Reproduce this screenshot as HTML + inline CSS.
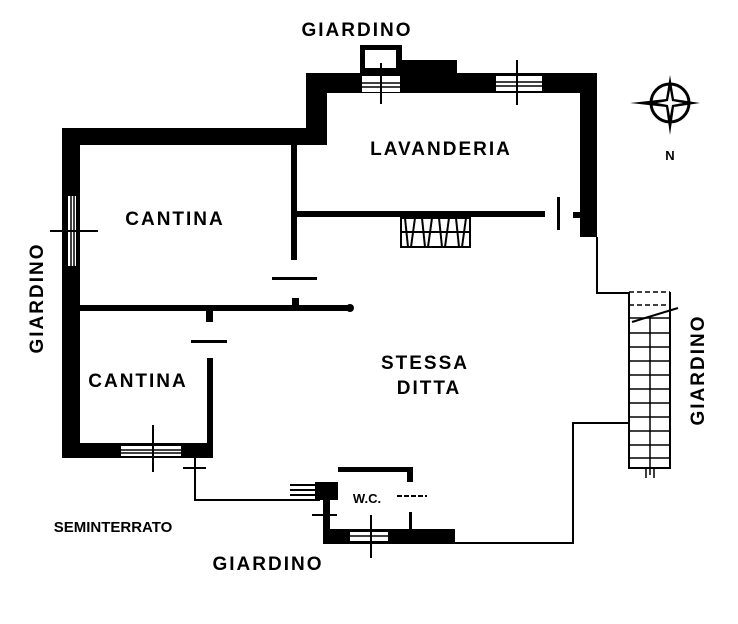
<!DOCTYPE html>
<html><head><meta charset="utf-8"><style>
html,body{margin:0;padding:0;background:#fff;}
svg{display:block;}
text{font-family:"Liberation Sans",sans-serif;fill:#000;}
.l{font-size:19px;letter-spacing:2px;font-weight:bold;}
</style></head><body>
<svg width="738" height="624" viewBox="0 0 738 624" xmlns="http://www.w3.org/2000/svg">
<g fill="#000">
<rect x="62" y="128" width="265" height="17"/>
<rect x="62" y="128" width="18" height="330"/>
<rect x="306" y="73" width="21" height="72"/>
<rect x="306" y="73" width="291" height="20"/>
<rect x="580" y="73" width="17" height="164"/>
<rect x="400" y="60" width="57" height="14"/>
<rect x="360" y="45" width="42" height="30"/>
<rect x="62" y="443" width="151" height="15"/>
<rect x="291" y="145" width="6" height="115"/>
<rect x="297" y="211" width="248" height="6"/>
<rect x="557" y="197" width="3" height="33"/>
<rect x="573" y="212" width="8" height="6"/>
<rect x="80" y="305" width="270" height="6"/>
<circle cx="350" cy="308" r="4"/>
<rect x="292" y="298" width="7" height="8"/>
<rect x="206" y="311" width="7" height="11"/>
<rect x="207" y="358" width="6" height="92"/>
<rect x="272" y="277" width="45" height="3"/>
<rect x="191" y="340" width="36" height="3"/>
<rect x="315" y="482" width="23" height="18"/>
<rect x="338" y="467" width="75" height="5"/>
<rect x="407" y="467" width="6" height="15"/>
<rect x="323" y="500" width="7" height="44"/>
<rect x="323" y="529" width="132" height="15"/>
<rect x="409" y="512" width="3" height="18"/>
</g>
<g fill="#fff">
<rect x="365" y="50" width="31" height="18"/>
<rect x="68" y="196" width="8" height="70"/>
<rect x="362" y="76" width="38" height="16"/>
<rect x="496" y="76" width="46" height="15"/>
<rect x="121" y="446" width="60" height="10"/>
<rect x="350" y="532" width="38" height="9"/>
</g>
<g stroke="#000" fill="none">
<path d="M71 196V266M74 196V266" stroke-width="1.5"/>
<path d="M50 231H98" stroke-width="2"/>
<path d="M362 83H400M362 87H400M496 82H542M496 86H542" stroke-width="1.5"/>
<path d="M381 63V104M517 60V105" stroke-width="2"/>
<path d="M121 450H181M121 453H181M350 536H388" stroke-width="1.5"/>
<path d="M153 425V472M371 515V558" stroke-width="2"/>
<path d="M597 237V293H628M195 458V500H320M455 543H573V423H628" stroke-width="2"/>
<path d="M183 468H206M312 515H337" stroke-width="2"/>
<path d="M290 485H318M290 490H318M290 495H318" stroke-width="2"/>
<path d="M397 496H427" stroke-width="2" stroke-dasharray="5 2"/>
<rect x="401" y="218" width="69" height="29" stroke-width="2"/>
<path d="M401 232H470M405 218l3 29M415 218l-4 29M422 218l3 29M432 218l-4 29M439 218l3 29M449 218l-4 29M456 218l3 29M466 218l-4 29" stroke-width="2"/>
<path d="M629 292V468H670V292" stroke-width="2"/>
<path d="M629 292H670M629 305H670" stroke-width="1.5" stroke-dasharray="5 3"/>
<path d="M650 318V475M646 468V478M654 468V478" stroke-width="1.5"/>
<path d="M629 318H670M629 333H670M629 347H670M629 361H670M629 375H670M629 389H670M629 403H670M629 417H670M629 431H670M629 445H670M629 458H670" stroke-width="1.5"/>
<path d="M632 322L678 308" stroke-width="2"/>
<circle cx="670" cy="103" r="19" stroke-width="3"/>
</g>
<path d="M670 75L674 99L700 103L674 107L670 135L666 107L630 103L666 99Z" fill="#000"/>
<path d="M670 90L672 101L683 103L672 105L670 116L668 105L657 103L668 101Z" fill="#fff"/>
<text x="670" y="160" font-size="13" font-weight="bold" text-anchor="middle">N</text>
<text class="l" x="357" y="36" text-anchor="middle">GIARDINO</text>
<text class="l" x="441" y="155" text-anchor="middle">LAVANDERIA</text>
<text class="l" x="175" y="225" text-anchor="middle">CANTINA</text>
<text class="l" x="138" y="387" text-anchor="middle">CANTINA</text>
<text class="l" x="425" y="369" text-anchor="middle">STESSA</text>
<text class="l" x="429" y="394" text-anchor="middle">DITTA</text>
<text class="l" x="268" y="570" text-anchor="middle">GIARDINO</text>
<text class="l" transform="translate(43,298) rotate(-90)" text-anchor="middle">GIARDINO</text>
<text class="l" transform="translate(704,370) rotate(-90)" text-anchor="middle">GIARDINO</text>
<text x="367" y="503" font-size="13" font-weight="bold" text-anchor="middle">W.C.</text>
<text x="113" y="532" font-size="15" font-weight="bold" text-anchor="middle">SEMINTERRATO</text>
</svg>
</body></html>
